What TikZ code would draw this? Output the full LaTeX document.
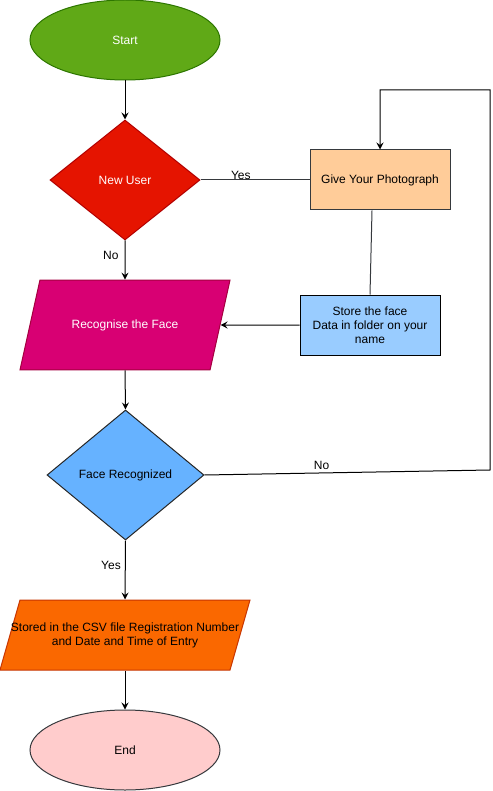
\documentclass[tikz,border=0pt]{standalone}
\usepackage{fontspec}
\setmainfont{Liberation Sans}
\usetikzlibrary{shapes.geometric,arrows.meta}
\definecolor{startfill}{HTML}{60A917}
\definecolor{startdraw}{HTML}{2D7600}
\definecolor{userfill}{HTML}{E51400}
\definecolor{userdraw}{HTML}{B20000}
\definecolor{recogfill}{HTML}{D80073}
\definecolor{recogdraw}{HTML}{A50040}
\definecolor{facefill}{HTML}{66B2FF}
\definecolor{csvfill}{HTML}{FA6800}
\definecolor{csvdraw}{HTML}{C73500}
\definecolor{endfill}{HTML}{FFCCCC}
\definecolor{photofill}{HTML}{FFCC99}
\definecolor{storefill}{HTML}{99CCFF}
\definecolor{greydraw}{HTML}{36393D}
\tikzstyle{terminal} = [ellipse, draw, line width=1pt,
	minimum width=190pt, minimum height=80pt, inner sep=0pt]
\tikzstyle{decision} = [diamond, draw, line width=1pt, inner sep=0pt]
\tikzstyle{io} = [trapezium, draw, line width=1pt, trapezium stretches body=true,
	inner xsep=0pt, align=center]
\tikzstyle{process} = [rectangle, draw, line width=1pt,
	minimum width=140pt, minimum height=60pt, align=center, inner sep=0pt]
\tikzstyle{line} = [draw, line width=1pt, -{Stealth[length=7pt,width=7pt,inset=2.5pt]}]
\tikzstyle{plain} = [draw, line width=1pt]
\tikzstyle{edgetext} = [inner sep=0pt, text=black]

\begin{document}
\begin{tikzpicture}[x=1pt, y=-1pt, font=\fontsize{12}{14}\selectfont]
	\useasboundingbox (0,0) rectangle (492,791);
	% Place nodes
	\node [terminal, fill=startfill, draw=startdraw, text=white] (start) at (125,40) {Start};
	\node [decision, fill=userfill, draw=userdraw, text=white,
		minimum width=150pt, minimum height=120pt] (newuser) at (125,180) {New User};
	\node [process, fill=photofill, draw=greydraw] (photo) at (380,180) {Give Your Photograph};
	\node [process, fill=storefill, draw=black] (store) at (370,325)
		{Store the face\\Data in folder on your\\name};
	\node [io, fill=recogfill, draw=recogdraw, text=white, trapezium left angle=77.47,
		trapezium right angle=102.53, inner ysep=39.3pt, minimum width=210pt] (recog) at (125,325)
		{Recognise the Face};
	\node [decision, fill=facefill, draw=black!85,
		minimum width=157pt, minimum height=130pt] (face) at (125.5,475) {Face Recognized};
	\node [io, fill=csvfill, draw=csvdraw, trapezium left angle=74.05,
		trapezium right angle=105.95, inner ysep=22.4pt, minimum width=250pt] (csv) at (125,635)
		{\makebox[210pt]{Stored in the CSV file Registration Number}\\
		\makebox[210pt]{and Date and Time of Entry}};
	\node [terminal, fill=endfill, draw=greydraw] (end) at (125,750) {End};
	\coordinate (loopa) at (490,470);
	\coordinate (loopb) at (490,90);
	% Draw edges
	\path [line] (start) -- (newuser);
	\path [plain, draw=greydraw] (newuser.east) -- node [edgetext, pos=0.37, above] {Yes} (photo.west);
	\path [plain, draw=greydraw] ([xshift=-8pt]photo.south) -- (store.north);
	\path [line] (store.west) -- (recog.east);
	\path [line] (newuser.south) -- node [edgetext, pos=0.375, left=6pt] {No} (recog.north);
	\path [line] (recog.south) -- (face.north);
	\path [line] (face.east) -- node [edgetext, pos=0.41, above=3pt] {No} (loopa)
		-- (loopb) -| (photo.north);
	\path [line] (face.south) -- node [edgetext, pos=0.42, left=4pt] {Yes} (csv.north);
	\path [line] (csv.south) -- (end.north);
\end{tikzpicture}
\end{document}
